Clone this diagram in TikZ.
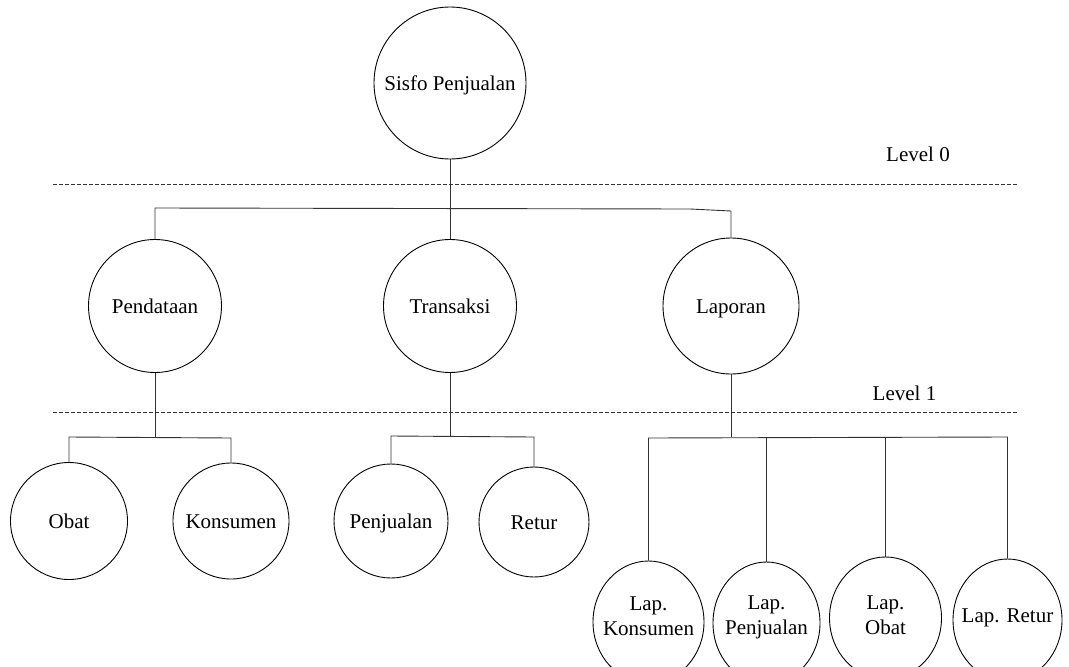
\documentclass[tikz,border=0pt]{standalone}
\usepackage{fontspec}
\setmainfont{Liberation Serif}
\usetikzlibrary{shapes.geometric}
\begin{document}
\begin{tikzpicture}[x=1pt,y=-1pt,
  every node/.style={font=\fontsize{21}{25}\selectfont, text=black},
  proc/.style={draw=black, circle, inner sep=0pt, line width=0.9pt,
    text height=14pt, text depth=0pt},
  subproc/.style={draw=black, ellipse, inner sep=0pt, line width=0.9pt,
    minimum height=122pt},
  link/.style={draw=black!80, line width=0.9pt},
  levelsep/.style={draw=black!80, line width=0.8pt, dash pattern=on 4pt off 2pt}
]
\useasboundingbox (0,0) rectangle (1069,667);

% level separators
\coordinate (d0a) at (53,184);  \coordinate (d0b) at (1018,184);
\coordinate (d1a) at (53,412);  \coordinate (d1b) at (1018,412);
\draw[levelsep] (d0a) -- (d0b);
\draw[levelsep] (d1a) -- (d1b);
\node[anchor=base] (lv0) at (918,161) {Level 0};
\node[anchor=base] (lv1) at (904.5,400) {Level 1};

% processes
\node[proc, minimum size=152pt] (root) at (450,83) {Sisfo Penjualan};
\node[proc, minimum size=133pt] (pend) at (155,306) {Pendataan};
\node[proc, minimum size=133pt] (trans) at (450,306) {Transaksi};
\node[proc, minimum size=136pt] (lap) at (731,306) {Laporan};

\node[proc, minimum size=117pt] (obat) at (69,521) {Obat};
\node[proc, minimum size=116pt] (kons) at (231,521) {Konsumen};
\node[proc, minimum size=114pt] (penj) at (391,521) {Penjualan};
\node[proc, minimum size=110pt] (retur) at (534,522) {Retur};

\node[subproc, minimum width=111pt,
  label={[align=center, yshift=6pt]center:{Lap.\\Konsumen}}] (lk) at (648.5,622) {};
\node[subproc, minimum width=107pt,
  label={[align=center, yshift=6pt]center:{Lap.\\Penjualan}}] (lp) at (766.5,623) {};
\node[subproc, minimum width=112pt,
  label={[align=center, yshift=3pt]center:{Lap.\\Obat}}] (lo) at (885.5,618) {};
\node[subproc, minimum width=109pt,
  label={[yshift=2pt]center:{Lap. Retur}}] (lr) at (1007.5,620) {};

% level 0 -> level 1
\coordinate (kink) at (690,209);
\draw[link] (root.south) -- (trans.north);
\draw[link] (pend.north) -- (pend.north |- 0,208) -- (kink)
  -- (lap.north |- 0,211) -- (lap.north);

% Pendataan
\draw[link] (pend.south) -- (pend.south |- 0,437);
\draw[link] (obat.north) -- (obat.north |- 0,437) -- (kons.north |- 0,438) -- (kons.north);

% Transaksi
\draw[link] (trans.south) -- (trans.south |- 0,436);
\draw[link] (penj.north) -- (penj.north |- 0,436) -- (retur.north |- 0,437) -- (retur.north);

% Laporan
\draw[link] (lap.south) -- (lap.south |- 0,437);
\draw[link] (lk.north) -- (lk.north |- 0,438) -- (lr.north |- 0,437) -- (lr.north);
\draw[link] (lp.north) -- (lp.north |- 0,437);
\draw[link] (lo.north) -- (lo.north |- 0,437);
\end{tikzpicture}
\end{document}
